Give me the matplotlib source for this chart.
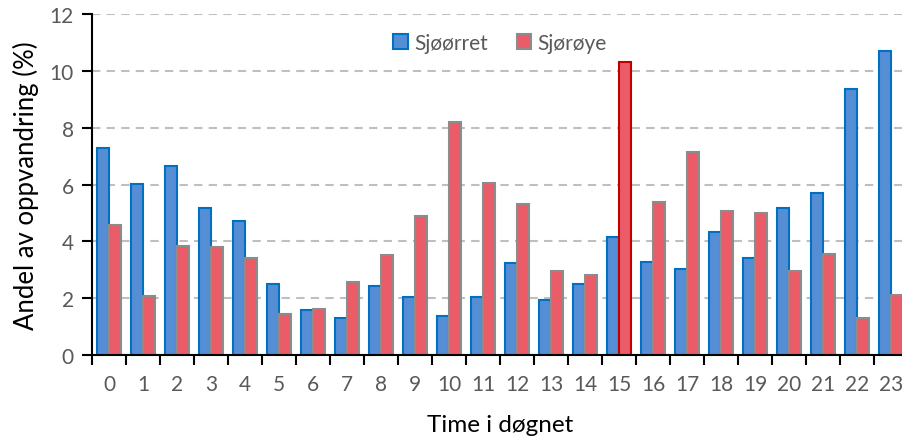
import numpy as np
import matplotlib.pyplot as plt

plt.rcParams['font.family'] = ['Lato', 'DejaVu Sans']

hours = [str(h) for h in range(24)]
sjoorret = [7.28, 6.02, 6.66, 5.17, 4.70, 2.50, 1.58, 1.30, 2.42, 2.03, 1.37, 2.03,
            3.25, 1.95, 2.50, 4.16, 3.26, 3.04, 4.33, 3.43, 5.17, 5.71, 9.35, 10.71]
sjoroye = [4.57, 2.06, 3.84, 3.80, 3.42, 1.43, 1.63, 2.57, 3.52, 4.88, 8.20, 6.05,
           5.30, 2.97, 2.80, 10.32, 5.38, 7.13, 5.07, 5.00, 2.94, 3.55, 1.30, 2.12]

fig = plt.figure(figsize=(9.03, 4.39), dpi=100)
ax = fig.add_axes([92/903, 83/439, 816/903, 341/439])

x = np.arange(len(hours))
w = 0.36
ax.bar(x - w/2, sjoorret, w, color='#558ED5', edgecolor='#0070C0', linewidth=1.5,
       label='Sjøørret', zorder=3)
red_edges = ['#C00000' if h == '15' else '#8C8C8C' for h in hours]
ax.bar(x + w/2, sjoroye, w, color='#E95C68', edgecolor=red_edges, linewidth=1.5,
       label='Sjørøye', zorder=3)

ax.set_xlim(-0.5, 23.5)
ax.set_ylim(0, 12)
ax.set_yticks(range(0, 13, 2))
ax.set_xticks(x)
ax.set_xticklabels(hours)
ax.set_xticks(np.arange(-0.5, 24, 1), minor=True)
ax.tick_params(axis='x', which='major', length=0, pad=14, labelsize=15, labelcolor='#595959')
ax.tick_params(axis='x', which='minor', length=7, width=1.5, direction='out')
ax.tick_params(axis='y', length=7, width=1.5, labelsize=15, labelcolor='#595959', pad=6)

ax.yaxis.grid(True, color='#BFBFBF', linestyle=(0, (4, 3)), linewidth=1.5, zorder=0)
ax.set_axisbelow(True)
for s in ['top', 'right']:
    ax.spines[s].set_visible(False)
for s in ['left', 'bottom']:
    ax.spines[s].set_linewidth(1.5)
    ax.spines[s].set_zorder(4)

ax.set_ylabel('Andel av oppvandring (%)', fontsize=18.5, labelpad=8)
ax.set_xlabel('Time i døgnet', fontsize=17.5, labelpad=14)

ax.legend(loc='upper center', bbox_to_anchor=(0.5, 1.0), ncol=2, frameon=False,
          fontsize=15, handlelength=0.7, handleheight=0.7, handletextpad=0.3,
          columnspacing=1.4, labelcolor='#595959')

fig.savefig('out.png', dpi=100)
